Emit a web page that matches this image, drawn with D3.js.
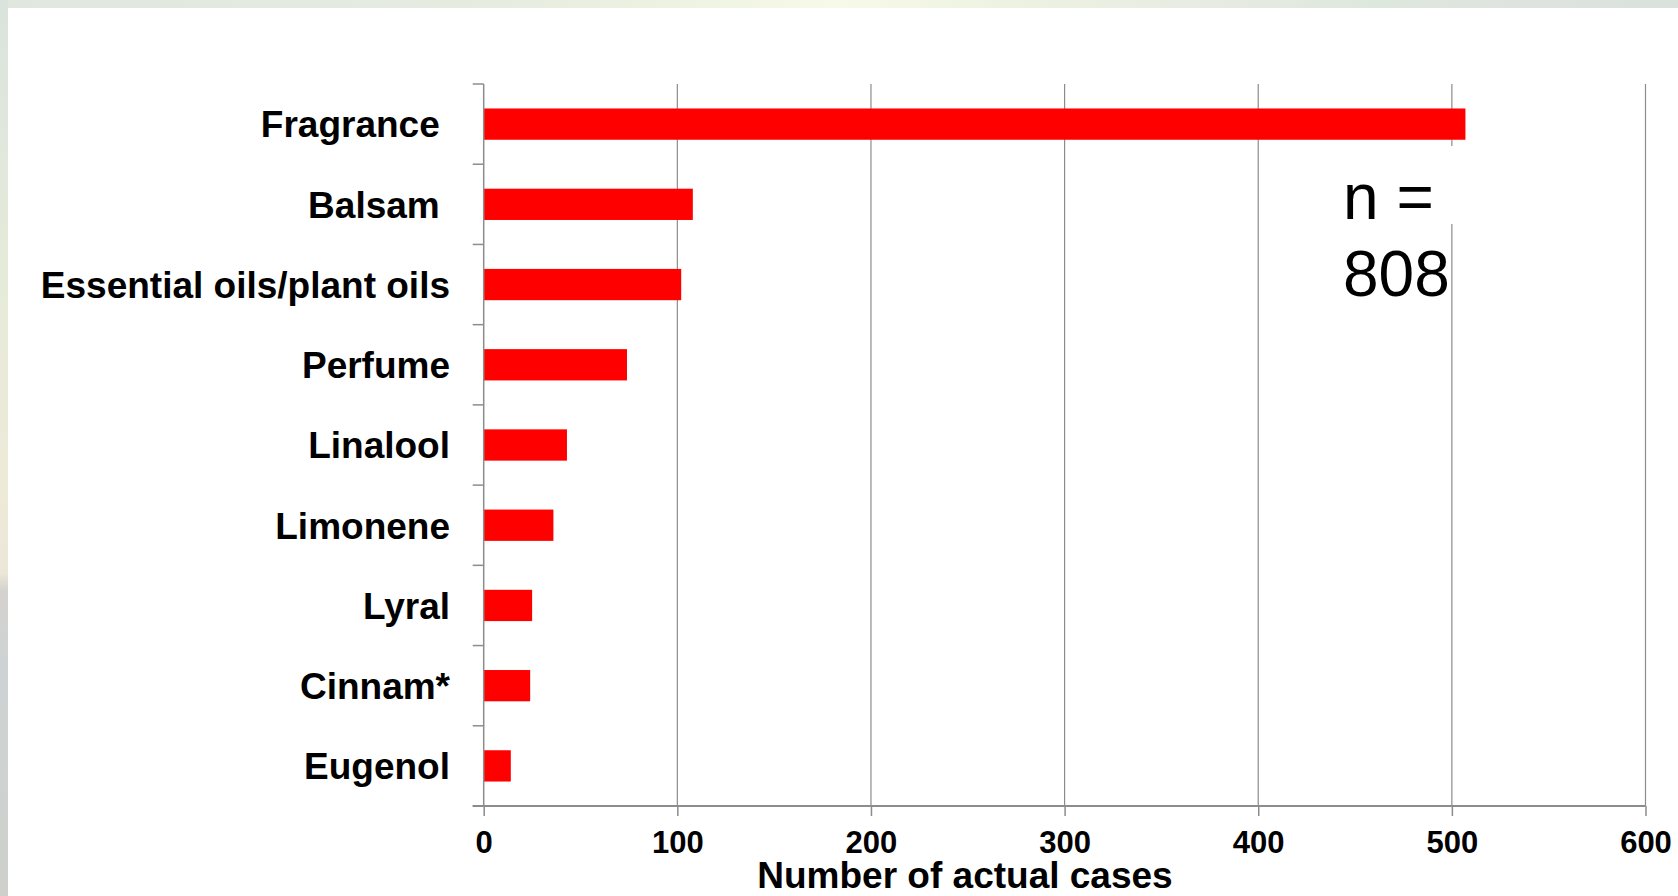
<!DOCTYPE html>
<html>
<head>
<meta charset="utf-8">
<script src="https://cdn.jsdelivr.net/npm/d3@7"></script>
<style>
  html, body { margin: 0; padding: 0; background: #ffffff; }
  svg { display: block; }
  text { font-family: "Liberation Sans", Arial, sans-serif; }
  .cat text { white-space: pre; }
</style>
</head>
<body>
<svg id="chart" width="1678" height="896"></svg>
<script>
// Allergen categories (top to bottom) and number of actual cases
const categories = ["Fragrance ", "Balsam ", "Essential oils/plant oils", "Perfume",
                    "Linalool", "Limonene", "Lyral", "Cinnam*", "Eugenol"];
const cases = [507, 108, 102, 74, 43, 36, 25, 24, 14];
const xTicks = [0, 100, 200, 300, 400, 500, 600];
const xTitle = "Number of actual cases";
const noteLines = ["n =", "808"];

const svg = d3.select("#chart");
const W = 1678, H = 896;
const plot = { left: 483.7, right: 1645.5, top: 84, bottom: 806 };

// slide background frame
const defs = svg.append("defs");
const topGrad = defs.append("linearGradient").attr("id", "topGrad")
  .attr("x1", 0).attr("x2", 1).attr("y1", 0).attr("y2", 0);
[[0, "#dfe7df"], [0.3, "#e6ece0"], [0.4, "#eef2e2"], [0.5, "#f7fae8"], [0.6, "#eef2e2"],
 [0.72, "#e8ebe2"], [0.82, "#dde8dc"], [0.9, "#dfe3df"], [1, "#d9e2dc"]]
  .forEach(([o, c]) => topGrad.append("stop").attr("offset", o).attr("stop-color", c));
const leftGrad = defs.append("linearGradient").attr("id", "leftGrad")
  .attr("x1", 0).attr("x2", 0).attr("y1", 0).attr("y2", 1);
[[0, "#dae4dc"], [0.15, "#e0e7dc"], [0.35, "#e7ebd8"], [0.55, "#eeead8"], [0.64, "#ece6d6"],
 [0.66, "#d4d2d0"], [0.75, "#cdd3d3"], [1, "#cfd0cc"]]
  .forEach(([o, c]) => leftGrad.append("stop").attr("offset", o).attr("stop-color", c));
svg.append("rect").attr("x", 0).attr("y", 0).attr("width", W).attr("height", 8).attr("fill", "url(#topGrad)");
svg.append("rect").attr("x", 0).attr("y", 0).attr("width", 8).attr("height", H).attr("fill", "url(#leftGrad)");
svg.append("rect").attr("x", 8).attr("y", 8).attr("width", W - 8).attr("height", H - 8).attr("fill", "#ffffff");

// scales
const x = d3.scaleLinear().domain([0, 600]).range([plot.left, plot.right]);
const y = d3.scaleBand().domain(categories).range([plot.top, plot.bottom])
  .paddingInner(0.61).paddingOuter(0.305);
const step = y.step();
const lineColor = "#8c8c8c";

// vertical gridlines
svg.append("g").selectAll("line").data(xTicks.filter(d => d > 0)).join("line")
  .attr("x1", d => x(d)).attr("x2", d => x(d))
  .attr("y1", plot.top).attr("y2", plot.bottom)
  .attr("stroke", lineColor).attr("stroke-width", 1.2);

// bars
svg.append("g").selectAll("rect").data(categories).join("rect")
  .attr("x", x(0))
  .attr("y", d => y(d))
  .attr("width", (d, i) => x(cases[i]) - x(0))
  .attr("height", y.bandwidth())
  .attr("fill", "#ff0000");

// category axis: tick marks at band boundaries
const bounds = d3.range(categories.length + 1).map(i => plot.top + i * step);
svg.append("g").selectAll("line").data(bounds).join("line")
  .attr("x1", plot.left - 11).attr("x2", plot.left)
  .attr("y1", d => d).attr("y2", d => d)
  .attr("stroke", lineColor).attr("stroke-width", 1.5);
svg.append("line")
  .attr("x1", plot.left).attr("x2", plot.left)
  .attr("y1", plot.top).attr("y2", plot.bottom)
  .attr("stroke", lineColor).attr("stroke-width", 1.5);

// category labels
const yAxis = svg.append("g").attr("class", "cat")
  .attr("transform", `translate(${plot.left},0)`)
  .call(d3.axisLeft(y).tickSize(0).tickPadding(33.7));
yAxis.select(".domain").remove();
yAxis.selectAll("text")
  .attr("font-size", 37).attr("font-weight", "bold").attr("fill", "#000")
  .attr("font-family", "'Liberation Sans', Arial, sans-serif")
  .attr("dy", "0.36em");

// value axis
const xAxis = svg.append("g")
  .attr("transform", `translate(0,${plot.bottom})`)
  .call(d3.axisBottom(x).tickValues(xTicks).tickSize(10).tickPadding(15).tickSizeOuter(0));
xAxis.select(".domain")
  .attr("d", `M${plot.left - 11},0H${plot.right}`)
  .attr("stroke", lineColor).attr("stroke-width", 2);
xAxis.selectAll(".tick line").attr("stroke", lineColor).attr("stroke-width", 1.5);
xAxis.selectAll("text")
  .attr("font-size", 31).attr("font-weight", "bold").attr("fill", "#000")
  .attr("font-family", "'Liberation Sans', Arial, sans-serif")
  .attr("dy", "0.71em");

// axis title
svg.append("text")
  .attr("x", 965).attr("y", 888)
  .attr("text-anchor", "middle")
  .attr("font-size", 37).attr("font-weight", "bold").attr("fill", "#000")
  .text(xTitle);

// sample size note in a white text box
svg.append("rect")
  .attr("x", 1336).attr("y", 146).attr("width", 124).attr("height", 78)
  .attr("fill", "#ffffff");
svg.append("g").selectAll("text").data(noteLines).join("text")
  .attr("x", 1343)
  .attr("y", (d, i) => 219 + i * 77)
  .attr("font-size", 64).attr("fill", "#000")
  .text(d => d);
</script>
</body>
</html>
